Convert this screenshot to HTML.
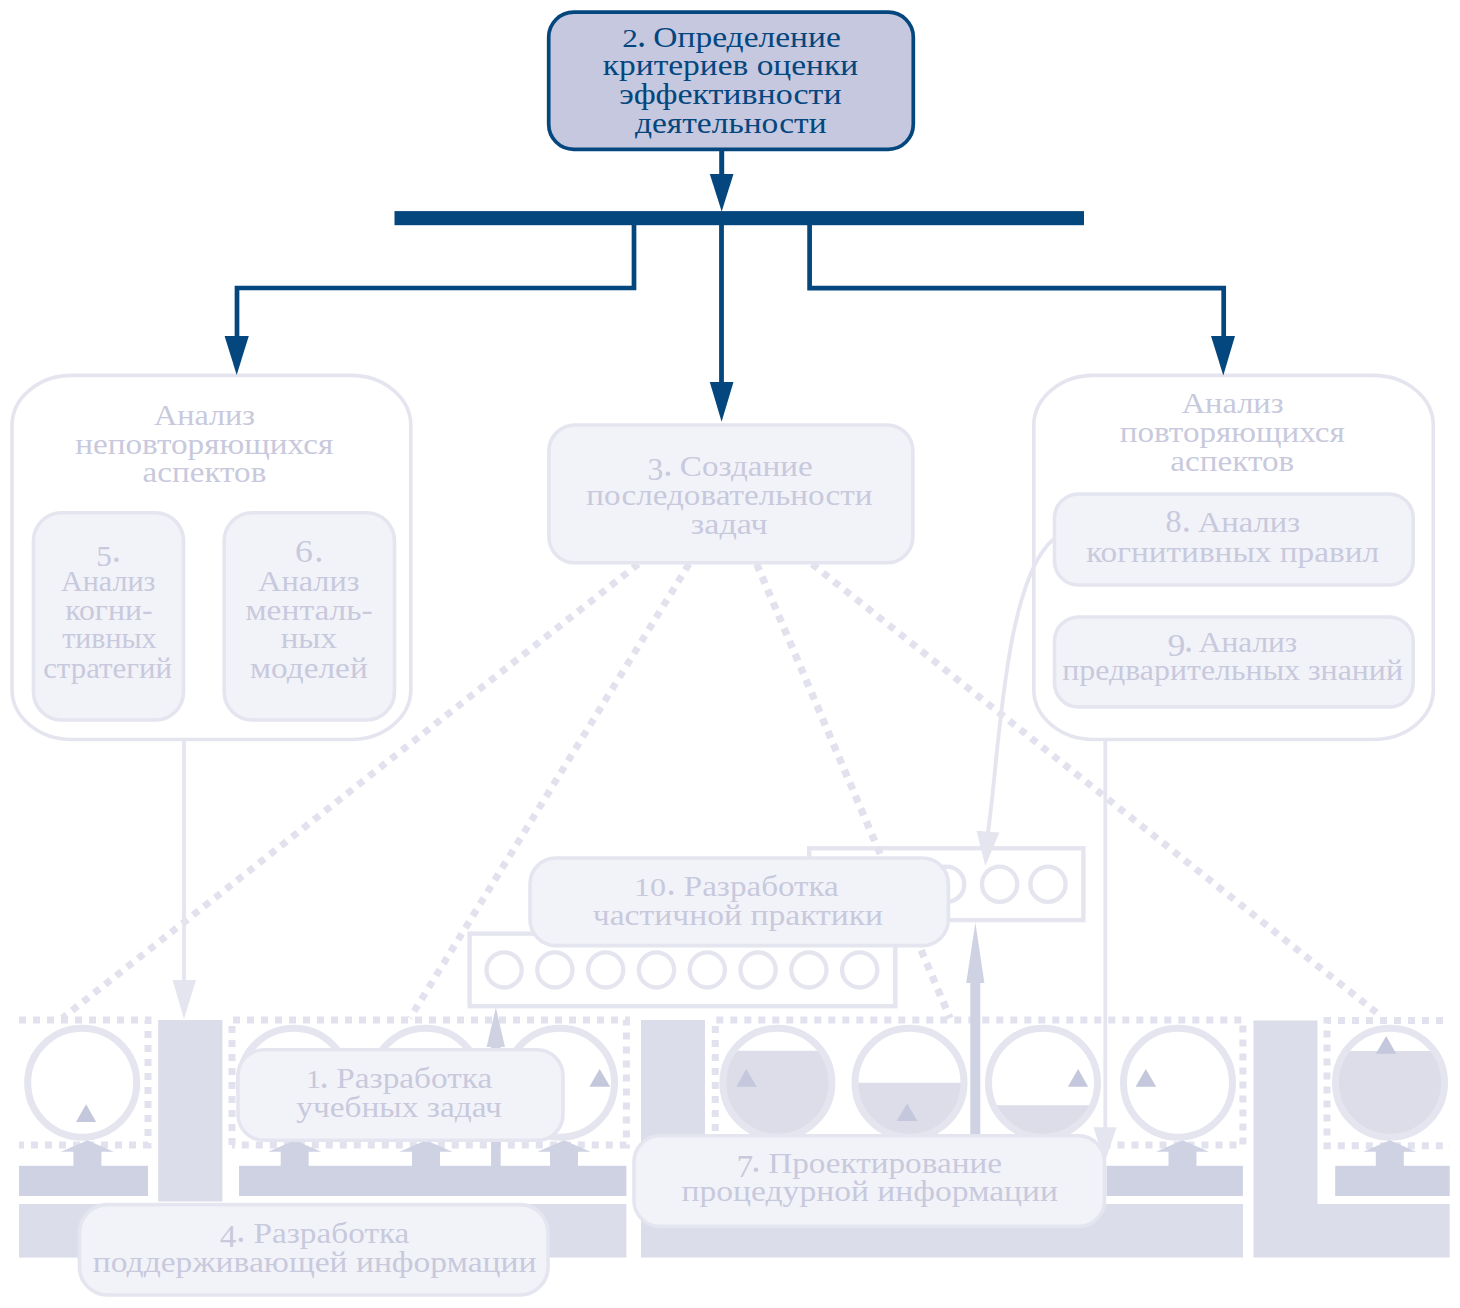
<!DOCTYPE html>
<html><head><meta charset="utf-8"><style>
html,body{margin:0;padding:0;background:#ffffff;width:1460px;height:1308px;overflow:hidden}
svg{display:block;font-family:"Liberation Serif",serif}
</style></head><body>
<svg width="1460" height="1308" viewBox="0 0 1460 1308">
<rect x="19" y="1204" width="607.40" height="53.60" fill="#dcddea"/>
<polygon points="641,1020 705,1020 705,1204 1243,1204 1243,1257.6 641,1257.6" fill="#dcddea"/>
<rect x="158.2" y="1020" width="64.20" height="181.50" fill="#dcddea"/>
<polygon points="1253.5,1020.4 1317.5,1020.4 1317.5,1204 1449.7,1204 1449.7,1257.5 1253.5,1257.5" fill="#dcddea"/>
<rect x="19" y="1165.8" width="129.00" height="30.20" fill="#cfd2e3"/>
<rect x="239" y="1165.8" width="387.40" height="30.20" fill="#cfd2e3"/>
<rect x="1106.5" y="1165.8" width="136.40" height="30.20" fill="#cfd2e3"/>
<rect x="1335.2" y="1165.8" width="114.50" height="30.20" fill="#cfd2e3"/>
<path d="M19,1020 H148 V1145 H19" fill="none" stroke="#e1e2ee" stroke-width="7" stroke-dasharray="7 7"/>
<path d="M232,1145 V1020 H626.4 V1145 H232" fill="none" stroke="#e1e2ee" stroke-width="7" stroke-dasharray="7 7"/>
<path d="M715.3,1145 V1020 H1242.9 V1145 H715.3" fill="none" stroke="#e1e2ee" stroke-width="7" stroke-dasharray="7 7"/>
<path d="M1443,1020.5 H1327 V1145.7 H1450" fill="none" stroke="#e1e2ee" stroke-width="7" stroke-dasharray="7 7"/>
<circle cx="82.2" cy="1082.8" r="54.5" fill="#ffffff"/>
<circle cx="82.2" cy="1082.8" r="54.5" fill="none" stroke="#e4e5ef" stroke-width="7"/>
<polygon points="86.1,1104.3 96.2,1121.9 75.9,1121.9" fill="#c5c7dc"/>
<circle cx="293.8" cy="1082.8" r="54.5" fill="#ffffff"/>
<circle cx="293.8" cy="1082.8" r="54.5" fill="none" stroke="#e4e5ef" stroke-width="7"/>
<circle cx="425.7" cy="1082.8" r="54.5" fill="#ffffff"/>
<circle cx="425.7" cy="1082.8" r="54.5" fill="none" stroke="#e4e5ef" stroke-width="7"/>
<circle cx="560" cy="1082.8" r="54.5" fill="#ffffff"/>
<circle cx="560" cy="1082.8" r="54.5" fill="none" stroke="#e4e5ef" stroke-width="7"/>
<polygon points="599.6,1069.1 610.2,1086.7 589.4,1086.7" fill="#c5c7dc"/>
<circle cx="777.4" cy="1082.8" r="54.5" fill="#ffffff"/>
<clipPath id="c777"><rect x="717.4" y="1050.7" width="120" height="120"/></clipPath>
<circle cx="777.4" cy="1082.8" r="52.5" fill="#dcdde9" clip-path="url(#c777)"/>
<circle cx="777.4" cy="1082.8" r="54.5" fill="none" stroke="#e4e5ef" stroke-width="7"/>
<polygon points="746.2,1069.1 756.8,1086.7 736.4,1086.7" fill="#c5c7dc"/>
<circle cx="909.5" cy="1082.8" r="54.5" fill="#ffffff"/>
<clipPath id="c909"><rect x="849.5" y="1082.8" width="120" height="120"/></clipPath>
<circle cx="909.5" cy="1082.8" r="52.5" fill="#dcdde9" clip-path="url(#c909)"/>
<circle cx="909.5" cy="1082.8" r="54.5" fill="none" stroke="#e4e5ef" stroke-width="7"/>
<polygon points="907.2,1103.4 917.4,1121 896.6,1121" fill="#c5c7dc"/>
<circle cx="1043" cy="1082.8" r="54.5" fill="#ffffff"/>
<clipPath id="c1043"><rect x="983" y="1105.2" width="120" height="120"/></clipPath>
<circle cx="1043" cy="1082.8" r="52.5" fill="#dcdde9" clip-path="url(#c1043)"/>
<circle cx="1043" cy="1082.8" r="54.5" fill="none" stroke="#e4e5ef" stroke-width="7"/>
<polygon points="1078.1,1069.1 1088.1,1086.7 1067.9,1086.7" fill="#c5c7dc"/>
<circle cx="1178" cy="1082.8" r="54.5" fill="#ffffff"/>
<circle cx="1178" cy="1082.8" r="54.5" fill="none" stroke="#e4e5ef" stroke-width="7"/>
<polygon points="1145.8,1069.1 1156.2,1086.7 1135.6,1086.7" fill="#c5c7dc"/>
<circle cx="1390" cy="1082.8" r="54.5" fill="#ffffff"/>
<clipPath id="c1390"><rect x="1330" y="1051" width="120" height="120"/></clipPath>
<circle cx="1390" cy="1082.8" r="52.5" fill="#dcdde9" clip-path="url(#c1390)"/>
<circle cx="1390" cy="1082.8" r="54.5" fill="none" stroke="#e4e5ef" stroke-width="7"/>
<polygon points="1386.2,1036 1396.2,1053.8 1375.9,1053.8" fill="#c5c7dc"/>
<polygon points="87.4,1140.3 113.9,1151.8 101.4,1151.8 101.4,1166.5 73.4,1166.5 73.4,1151.8 60.900000000000006,1151.8" fill="#cfd2e3"/>
<polygon points="294.7,1140.3 321.2,1151.8 308.7,1151.8 308.7,1166.5 280.7,1166.5 280.7,1151.8 268.2,1151.8" fill="#cfd2e3"/>
<polygon points="426,1140.3 452.5,1151.8 440,1151.8 440,1166.5 412,1166.5 412,1151.8 399.5,1151.8" fill="#cfd2e3"/>
<polygon points="564,1140.3 590.5,1151.8 578,1151.8 578,1166.5 550,1166.5 550,1151.8 537.5,1151.8" fill="#cfd2e3"/>
<polygon points="1182.5,1140.3 1209.0,1151.8 1196.5,1151.8 1196.5,1166.5 1168.5,1166.5 1168.5,1151.8 1156.0,1151.8" fill="#cfd2e3"/>
<polygon points="1389.8,1140.3 1416.3,1151.8 1403.8,1151.8 1403.8,1166.5 1375.8,1166.5 1375.8,1151.8 1363.3,1151.8" fill="#cfd2e3"/>
<line x1="638.3" y1="564" x2="62.5" y2="1018" stroke="#e1e2ee" stroke-width="7" stroke-dasharray="7 7"/>
<line x1="689" y1="564" x2="410" y2="1018" stroke="#e1e2ee" stroke-width="7" stroke-dasharray="7 7"/>
<line x1="756.7" y1="564" x2="950" y2="1018" stroke="#e1e2ee" stroke-width="7" stroke-dasharray="7 7"/>
<line x1="812" y1="564" x2="1382" y2="1017" stroke="#e1e2ee" stroke-width="7" stroke-dasharray="7 7"/>
<rect x="469.6" y="933.6" width="425.7" height="72.6" fill="#ffffff" stroke="#e4e5ef" stroke-width="4.4"/>
<circle cx="504.1" cy="969.9" r="17.6" fill="none" stroke="#e4e5ef" stroke-width="4.3"/>
<circle cx="554.9" cy="969.9" r="17.6" fill="none" stroke="#e4e5ef" stroke-width="4.3"/>
<circle cx="605.7" cy="969.9" r="17.6" fill="none" stroke="#e4e5ef" stroke-width="4.3"/>
<circle cx="656.5" cy="969.9" r="17.6" fill="none" stroke="#e4e5ef" stroke-width="4.3"/>
<circle cx="707.3" cy="969.9" r="17.6" fill="none" stroke="#e4e5ef" stroke-width="4.3"/>
<circle cx="758.1" cy="969.9" r="17.6" fill="none" stroke="#e4e5ef" stroke-width="4.3"/>
<circle cx="808.9" cy="969.9" r="17.6" fill="none" stroke="#e4e5ef" stroke-width="4.3"/>
<circle cx="859.7" cy="969.9" r="17.6" fill="none" stroke="#e4e5ef" stroke-width="4.3"/>
<rect x="809.2" y="848.3" width="274.2" height="71.8" fill="#ffffff" stroke="#e4e5ef" stroke-width="4.4"/>
<circle cx="946.7" cy="884.2" r="17.6" fill="none" stroke="#e4e5ef" stroke-width="4.3"/>
<circle cx="999.6" cy="884.2" r="17.6" fill="none" stroke="#e4e5ef" stroke-width="4.3"/>
<circle cx="1048" cy="884.2" r="17.6" fill="none" stroke="#e4e5ef" stroke-width="4.3"/>
<line x1="756.7" y1="564" x2="950" y2="1018" stroke="#e1e2ee" stroke-width="7" stroke-dasharray="7 7"/>
<rect x="491" y="1045" width="9.70" height="121.00" fill="#cfd2e3"/>
<polygon points="495.9,1007.6 505,1047.1 486.6,1047.1" fill="#cfd2e3"/>
<rect x="970.3" y="980" width="10.00" height="156.00" fill="#cfd2e3"/>
<polygon points="975.4,922.7 984.4,983 966.2,983" fill="#cfd2e3"/>
<line x1="184" y1="740" x2="184" y2="985" stroke="#e4e5ef" stroke-width="3.8" />
<polygon points="172.5,980 196,980 184,1019" fill="#e4e5ef"/>
<line x1="1105.3" y1="740" x2="1105.3" y2="1130" stroke="#e4e5ef" stroke-width="3.8" />
<path d="M72,375.4 H350.8 A60,50 0 0 1 410.8,425.4 V689.5 A60,50 0 0 1 350.8,739.5 H72 A60,50 0 0 1 12,689.5 V425.4 A60,50 0 0 1 72,375.4 Z" fill="#ffffff" stroke="#e4e5ef" stroke-width="3.6"/>
<path d="M1093.8,375.4 H1373.3 A60,50 0 0 1 1433.3,425.4 V689.5 A60,50 0 0 1 1373.3,739.5 H1093.8 A60,50 0 0 1 1033.8,689.5 V425.4 A60,50 0 0 1 1093.8,375.4 Z" fill="#ffffff" stroke="#e4e5ef" stroke-width="3.6"/>
<rect x="33.5" y="512.8" width="150.00" height="207.20" rx="28" ry="28" fill="#f2f3f9" stroke="#e4e5ef" stroke-width="3.6"/>
<rect x="224.2" y="512.8" width="170.30" height="207.20" rx="28" ry="28" fill="#f2f3f9" stroke="#e4e5ef" stroke-width="3.6"/>
<rect x="548.9" y="425" width="364.00" height="137.80" rx="26" ry="26" fill="#f2f3f9" stroke="#e4e5ef" stroke-width="3.6"/>
<path d="M1054,539 C1002.8,579.1 998.3,771.4 987.5,835" fill="none" stroke="#e4e5ef" stroke-width="3.8"/>
<polygon points="976.5,830.8 999.4,832.4 985.3,866" fill="#e4e5ef"/>
<rect x="1054.5" y="494" width="358.70" height="91.00" rx="24" ry="24" fill="#f2f3f9" stroke="#e4e5ef" stroke-width="3.6"/>
<rect x="1054.5" y="617" width="358.70" height="90.00" rx="24" ry="24" fill="#f2f3f9" stroke="#e4e5ef" stroke-width="3.6"/>
<rect x="530" y="858" width="418.40" height="87.60" rx="26" ry="26" fill="#f2f3f9" stroke="#e4e5ef" stroke-width="3.6"/>
<rect x="238" y="1049.7" width="325.00" height="90.60" rx="26" ry="26" fill="#f2f3f9" stroke="#e4e5ef" stroke-width="3.6"/>
<rect x="634" y="1135.8" width="470.50" height="90.60" rx="26" ry="26" fill="#f2f3f9" stroke="#e4e5ef" stroke-width="3.6"/>
<rect x="79.5" y="1204.6" width="468.50" height="90.40" rx="28" ry="28" fill="#f2f3f9" stroke="#e4e5ef" stroke-width="3.6"/>
<polygon points="1093.4,1127.3 1116.6,1127.3 1104.8,1162" fill="#e4e5ef"/>
<g font-family="Liberation Serif, serif">
<text x="154.08" y="424.6" font-size="30" fill="#c8c9dc" textLength="100.87" lengthAdjust="spacingAndGlyphs">Анализ</text>
<text x="75.25" y="453.8" font-size="30" fill="#c8c9dc" textLength="257.98" lengthAdjust="spacingAndGlyphs">неповторяющихся</text>
<text x="142.60" y="482.2" font-size="30" fill="#c8c9dc" textLength="123.68" lengthAdjust="spacingAndGlyphs">аспектов</text>
<text x="1181.68" y="413.0" font-size="30" fill="#c8c9dc" textLength="101.89" lengthAdjust="spacingAndGlyphs">Анализ</text>
<text x="1119.75" y="441.9" font-size="30" fill="#c8c9dc" textLength="225.01" lengthAdjust="spacingAndGlyphs">повторяющихся</text>
<text x="1170.29" y="471.3" font-size="30" fill="#c8c9dc" textLength="123.98" lengthAdjust="spacingAndGlyphs">аспектов</text>
<text x="679.77" y="476.0" font-size="30" fill="#c8c9dc" textLength="132.96" lengthAdjust="spacingAndGlyphs">Создание</text>
<text x="586.35" y="504.7" font-size="30" fill="#c8c9dc" textLength="286.06" lengthAdjust="spacingAndGlyphs">последовательности</text>
<text x="690.89" y="533.5" font-size="30" fill="#c8c9dc" textLength="76.74" lengthAdjust="spacingAndGlyphs">задач</text>
<text x="60.90" y="590.5" font-size="30" fill="#c8c9dc" textLength="94.58" lengthAdjust="spacingAndGlyphs">Анализ</text>
<text x="65.17" y="619.7" font-size="30" fill="#c8c9dc" textLength="87.35" lengthAdjust="spacingAndGlyphs">когни-</text>
<text x="62.30" y="648.4" font-size="30" fill="#c8c9dc" textLength="94.14" lengthAdjust="spacingAndGlyphs">тивных</text>
<text x="43.17" y="677.6" font-size="30" fill="#c8c9dc" textLength="128.82" lengthAdjust="spacingAndGlyphs">стратегий</text>
<text x="258.08" y="590.5" font-size="30" fill="#c8c9dc" textLength="101.48" lengthAdjust="spacingAndGlyphs">Анализ</text>
<text x="245.42" y="619.7" font-size="30" fill="#c8c9dc" textLength="127.36" lengthAdjust="spacingAndGlyphs">менталь-</text>
<text x="280.75" y="648.4" font-size="30" fill="#c8c9dc" textLength="56.10" lengthAdjust="spacingAndGlyphs">ных</text>
<text x="250.02" y="677.6" font-size="30" fill="#c8c9dc" textLength="117.69" lengthAdjust="spacingAndGlyphs">моделей</text>
<text x="1197.77" y="532.0" font-size="30" fill="#c8c9dc" textLength="102.29" lengthAdjust="spacingAndGlyphs">Анализ</text>
<text x="1086.15" y="561.6" font-size="30" fill="#c8c9dc" textLength="293.00" lengthAdjust="spacingAndGlyphs">когнитивных правил</text>
<text x="1198.89" y="652.0" font-size="30" fill="#c8c9dc" textLength="98.34" lengthAdjust="spacingAndGlyphs">Анализ</text>
<text x="1062.27" y="680.4" font-size="30" fill="#c8c9dc" textLength="340.73" lengthAdjust="spacingAndGlyphs">предварительных знаний</text>
<text x="683.81" y="895.6" font-size="30" fill="#c8c9dc" textLength="155.01" lengthAdjust="spacingAndGlyphs">Разработка</text>
<text x="592.75" y="924.5" font-size="30" fill="#c8c9dc" textLength="290.35" lengthAdjust="spacingAndGlyphs">частичной практики</text>
<text x="336.20" y="1087.9" font-size="30" fill="#c8c9dc" textLength="156.12" lengthAdjust="spacingAndGlyphs">Разработка</text>
<text x="296.36" y="1116.7" font-size="30" fill="#c8c9dc" textLength="205.53" lengthAdjust="spacingAndGlyphs">учебных задач</text>
<text x="768.20" y="1172.5" font-size="30" fill="#c8c9dc" textLength="233.81" lengthAdjust="spacingAndGlyphs">Проектирование</text>
<text x="681.54" y="1201.3" font-size="30" fill="#c8c9dc" textLength="376.49" lengthAdjust="spacingAndGlyphs">процедурной информации</text>
<text x="253.40" y="1242.8" font-size="30" fill="#c8c9dc" textLength="156.02" lengthAdjust="spacingAndGlyphs">Разработка</text>
<text x="92.84" y="1271.6" font-size="30" fill="#c8c9dc" textLength="443.57" lengthAdjust="spacingAndGlyphs">поддерживающей информации</text>
<text font-size="30" fill="#c8c9dc" transform="matrix(1.0484 0 0 1.0495 647.43 479.79)">3</text>
<text font-size="30" fill="#c8c9dc" transform="matrix(1.2286 0 0 1.2571 663.34 475.60)">.</text>
<text font-size="30" fill="#c8c9dc" transform="matrix(1.0413 0 0 0.9497 96.13 565.52)">5</text>
<text font-size="30" fill="#c8c9dc" transform="matrix(1.2286 0 0 1.2571 111.84 561.60)">.</text>
<text font-size="30" fill="#c8c9dc" transform="matrix(1.1953 0 0 1.0396 295.05 562.19)">6</text>
<text font-size="30" fill="#c8c9dc" transform="matrix(1.2286 0 0 1.2571 314.34 561.60)">.</text>
<text font-size="30" fill="#c8c9dc" transform="matrix(1.0703 0 0 1.0246 1165.62 532.39)">8</text>
<text font-size="30" fill="#c8c9dc" transform="matrix(1.2286 0 0 1.2571 1181.74 531.60)">.</text>
<text font-size="30" fill="#c8c9dc" transform="matrix(1.1953 0 0 1.0396 1167.60 656.49)">9</text>
<text font-size="30" fill="#c8c9dc" transform="matrix(1.2286 0 0 1.2571 1183.94 651.60)">.</text>
<text font-size="30" fill="#c8c9dc" transform="matrix(1.0684 0 0 0.8424 634.02 895.65)">10</text>
<text font-size="30" fill="#c8c9dc" transform="matrix(1.2286 0 0 1.2571 666.44 895.20)">.</text>
<text font-size="30" fill="#c8c9dc" transform="matrix(1.0094 0 0 0.8283 305.88 1087.90)">1</text>
<text font-size="30" fill="#c8c9dc" transform="matrix(1.2286 0 0 1.2571 319.44 1087.50)">.</text>
<text font-size="30" fill="#c8c9dc" transform="matrix(1.1157 0 0 1.0255 736.57 1176.60)">7</text>
<text font-size="30" fill="#c8c9dc" transform="matrix(1.2286 0 0 1.2571 751.24 1172.10)">.</text>
<text font-size="30" fill="#c8c9dc" transform="matrix(1.1079 0 0 1.0254 219.74 1246.80)">4</text>
<text font-size="30" fill="#c8c9dc" transform="matrix(1.2286 0 0 1.2571 236.14 1242.40)">.</text>
</g>
<rect x="548.7" y="12.2" width="364.60" height="137.10" rx="25" ry="25" fill="#c5c8de" stroke="#04467e" stroke-width="3.7"/>
<g font-family="Liberation Serif, serif">
<text x="653.36" y="46.7" font-size="30" fill="#04467e" textLength="187.39" lengthAdjust="spacingAndGlyphs">Определение</text>
<text x="602.84" y="75.2" font-size="30" fill="#04467e" textLength="255.28" lengthAdjust="spacingAndGlyphs">критериев оценки</text>
<text x="619.27" y="103.8" font-size="30" fill="#04467e" textLength="222.33" lengthAdjust="spacingAndGlyphs">эффективности</text>
<text x="634.90" y="133.0" font-size="30" fill="#04467e" textLength="191.71" lengthAdjust="spacingAndGlyphs">деятельности</text>
<text font-size="30" fill="#04467e" transform="matrix(1.0413 0 0 0.8442 622.35 47.00)">2</text>
<text font-size="30" fill="#04467e" transform="matrix(1.2286 0 0 1.2571 636.94 46.60)">.</text>
</g>
<line x1="721.7" y1="149" x2="721.7" y2="178" stroke="#04467e" stroke-width="5" />
<polygon points="709.8,174 733.5,174 721.7,211.5" fill="#04467e"/>
<rect x="394.5" y="211.1" width="689.50" height="14.10" fill="#04467e"/>
<line x1="721.5" y1="224" x2="721.5" y2="385" stroke="#04467e" stroke-width="4.8" />
<polygon points="709.8,381.9 733.5,381.9 721.6,421.8" fill="#04467e"/>
<polyline points="634,224 634,288 237,288 237,340" fill="none" stroke="#04467e" stroke-width="4.7"/>
<polygon points="224.6,336 248.8,336 236.7,375" fill="#04467e"/>
<polyline points="809.6,224 809.6,288.2 1223.7,288.2 1223.7,340" fill="none" stroke="#04467e" stroke-width="4.7"/>
<polygon points="1211,336 1235,336 1223.3,375.5" fill="#04467e"/>
</svg>
</body></html>
